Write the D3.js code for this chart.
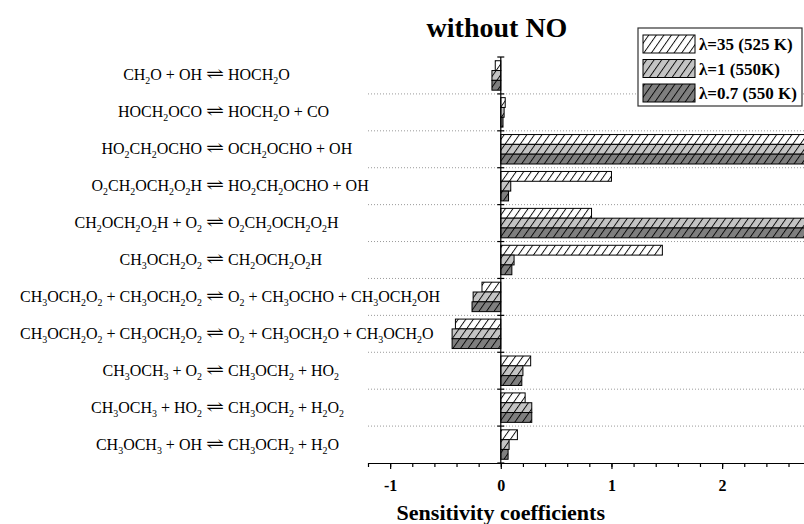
<!DOCTYPE html>
<html>
<head>
<meta charset="utf-8">
<script src="https://cdn.jsdelivr.net/npm/d3@7"></script>
<style>
  body { margin: 0; background: #fff; }
  svg { display: block; }
</style>
</head>
<body>
<div id="chart"></div>
<script>
// reactions, top to bottom (left side / right side of the equilibrium arrow)
const reactionLeft = [
    "CH2O + OH",
    "HOCH2OCO",
    "HO2CH2OCHO",
    "O2CH2OCH2O2H",
    "CH2OCH2O2H + O2",
    "CH3OCH2O2",
    "CH3OCH2O2 + CH3OCH2O2",
    "CH3OCH2O2 + CH3OCH2O2",
    "CH3OCH3 + O2",
    "CH3OCH3 + HO2",
    "CH3OCH3 + OH"
];
const reactionRight = [
    "HOCH2O",
    "HOCH2O + CO",
    "OCH2OCHO + OH",
    "HO2CH2OCHO + OH",
    "O2CH2OCH2O2H",
    "CH2OCH2O2H",
    "O2 + CH3OCHO + CH3OCH2OH",
    "O2 + CH3OCH2O + CH3OCH2O",
    "CH3OCH2 + HO2",
    "CH3OCH2 + H2O2",
    "CH3OCH2 + H2O"
];

const seriesNames = ["λ=35 (525 K)", "λ=1 (550K)", "λ=0.7 (550 K)"];
const seriesFills = ["#ffffff", "#c4c4c4", "#7f7f7f"];

// sensitivity coefficients per series (same order as reactions)
const lambda35 = [-0.05, 0.04, 3.0, 1.00, 0.82, 1.46, -0.17, -0.41, 0.27, 0.22, 0.15];
const lambda1  = [-0.08, 0.03, 3.0, 0.09, 3.0, 0.12, -0.25, -0.44, 0.20, 0.28, 0.075];
const lambda07 = [-0.08, 0.02, 3.0, 0.07, 3.0, 0.10, -0.26, -0.44, 0.19, 0.28, 0.066];

const majorTicks = [-1, 0, 1, 2];
const minorTicks = d3.range(-12, 28, 2).map(d => d / 10);

const width = 804, height = 524;
const plot = { left: 368, right: 804, top: 57, bottom: 463 };

const svg = d3.select("#chart").append("svg")
    .attr("width", width)
    .attr("height", height);

const x = d3.scaleLinear()
    .domain([-1.2, 2.74])
    .range([plot.left, plot.right]);

const rows = d3.range(reactionLeft.length);
const y = d3.scaleBand()
    .domain(rows)
    .range([plot.top, plot.bottom]);

const ySub = d3.scaleBand()
    .domain([0, 1, 2])
    .range([0, y.bandwidth()])
    .paddingInner(0)
    .paddingOuter(0.38);

// hatch patterns
const defs = svg.append("defs");
seriesFills.forEach((c, i) => {
    const p = defs.append("pattern")
        .attr("id", "hatch" + i)
        .attr("patternUnits", "userSpaceOnUse")
        .attr("width", 6.2)
        .attr("height", 10)
        .attr("patternTransform", "rotate(35)");
    p.append("rect").attr("width", 6.2).attr("height", 10).attr("fill", c);
    p.append("line")
        .attr("x1", 0.5).attr("x2", 0.5)
        .attr("y1", 0).attr("y2", 10)
        .attr("stroke", "#000")
        .attr("stroke-width", 0.9);
});

// dotted separators between reactions
const boundaries = rows.map(r => y(r)).concat([plot.bottom]);
svg.append("g")
    .selectAll("line")
    .data(boundaries.slice(1, -1))
    .join("line")
    .attr("x1", plot.left)
    .attr("x2", plot.right)
    .attr("y1", d => d)
    .attr("y2", d => d)
    .attr("stroke", "#9a9a9a")
    .attr("stroke-width", 1)
    .attr("stroke-dasharray", "1,2");

// bars
const allSeries = [lambda35, lambda1, lambda07];
allSeries.forEach((vals, s) => {
    svg.append("g")
        .selectAll("rect")
        .data(vals)
        .join("rect")
        .attr("x", d => x(Math.min(0, d)))
        .attr("width", d => Math.abs(x(d) - x(0)))
        .attr("y", (d, i) => y(i) + ySub(s))
        .attr("height", ySub.bandwidth())
        .attr("fill", `url(#hatch${s})`)
        .attr("stroke", "#000")
        .attr("stroke-width", 1);
});

// zero (y) axis with boundary ticks
svg.append("line")
    .attr("x1", x(0)).attr("x2", x(0))
    .attr("y1", plot.top).attr("y2", plot.bottom)
    .attr("stroke", "#000")
    .attr("stroke-width", 1.2);
svg.append("g")
    .selectAll("line")
    .data(boundaries)
    .join("line")
    .attr("x1", x(0) - 3.5)
    .attr("x2", x(0) + 3.5)
    .attr("y1", d => d)
    .attr("y2", d => d)
    .attr("stroke", "#000")
    .attr("stroke-width", 1.2);

// x axis: minor ticks, then labelled majors
svg.append("g")
    .attr("transform", `translate(0,${plot.bottom})`)
    .call(d3.axisBottom(x).tickValues(minorTicks).tickSize(4).tickSizeOuter(0).tickFormat(""))
    .call(g => g.selectAll("line, path").attr("stroke", "#000").attr("stroke-width", 1.2));

svg.append("g")
    .attr("transform", `translate(0,${plot.bottom})`)
    .call(d3.axisBottom(x).tickValues(majorTicks).tickSize(6).tickSizeOuter(0).tickPadding(11)
        .tickFormat(d => d < 0 ? "-" + Math.abs(d) : d))
    .call(g => g.select(".domain").remove())
    .call(g => g.selectAll("line").attr("stroke", "#000").attr("stroke-width", 1.2))
    .call(g => g.selectAll("text")
        .attr("fill", "#000")
        .style("font-family", "'Liberation Serif', 'Times New Roman', serif")
        .style("font-size", "16px")
        .style("font-weight", "bold"));

// axis title
svg.append("text")
    .attr("x", x(0))
    .attr("y", 520)
    .attr("text-anchor", "middle")
    .style("font-family", "'Liberation Serif', 'Times New Roman', serif")
    .style("font-size", "22px")
    .style("font-weight", "bold")
    .text("Sensitivity coefficients");

// title
svg.append("text")
    .attr("x", 497)
    .attr("y", 37)
    .attr("text-anchor", "middle")
    .style("font-family", "'Liberation Serif', 'Times New Roman', serif")
    .style("font-size", "28px")
    .style("font-weight", "bold")
    .text("without NO");

// chemical formula text: digits become subscripts
const labelSize = 16;
function formula(sel, str) {
    const parts = str.split(/(\d+)/).filter(p => p.length);
    let shifted = false;
    parts.forEach(p => {
        const isSub = /^\d+$/.test(p);
        const t = sel.append("tspan").text(p);
        if (isSub) {
            t.attr("dy", shifted ? 0 : 4).style("font-size", (labelSize * 0.62) + "px");
            shifted = true;
        } else {
            if (shifted) t.attr("dy", -4);
            shifted = false;
        }
    });
}

const arrowX = 215;
const labels = svg.append("g")
    .style("font-family", "'Liberation Serif', 'Times New Roman', serif")
    .style("font-size", labelSize + "px")
    .attr("fill", "#000");

rows.forEach(i => {
    const base = y(i) + y.bandwidth() / 2 + 5;
    formula(labels.append("text")
        .attr("x", arrowX - 13)
        .attr("y", base)
        .attr("text-anchor", "end"), reactionLeft[i]);
    labels.append("text")
        .attr("transform", `translate(${arrowX},${base - 1}) scale(1.35,1)`)
        .attr("text-anchor", "middle")
        .style("font-family", "'DejaVu Serif', serif")
        .style("font-size", "16px")
        .text("⇌");
    formula(labels.append("text")
        .attr("x", arrowX + 13)
        .attr("y", base)
        .attr("text-anchor", "start"), reactionRight[i]);
});

// legend
const legend = svg.append("g").attr("transform", "translate(638,28)");
legend.append("rect")
    .attr("width", 164)
    .attr("height", 78)
    .attr("fill", "#fff")
    .attr("stroke", "#333")
    .attr("stroke-width", 1.2);
seriesNames.forEach((name, i) => {
    legend.append("rect")
        .attr("x", 5)
        .attr("y", 7 + i * 24.5)
        .attr("width", 52)
        .attr("height", 18)
        .attr("fill", `url(#hatch${i})`)
        .attr("stroke", "#000")
        .attr("stroke-width", 1);
    legend.append("text")
        .attr("x", 61)
        .attr("y", 7 + i * 24.5 + 15)
        .style("font-family", "'Liberation Serif', 'Times New Roman', serif")
        .style("font-size", "17px")
        .style("font-weight", "bold")
        .text(name);
});
</script>
</body>
</html>
